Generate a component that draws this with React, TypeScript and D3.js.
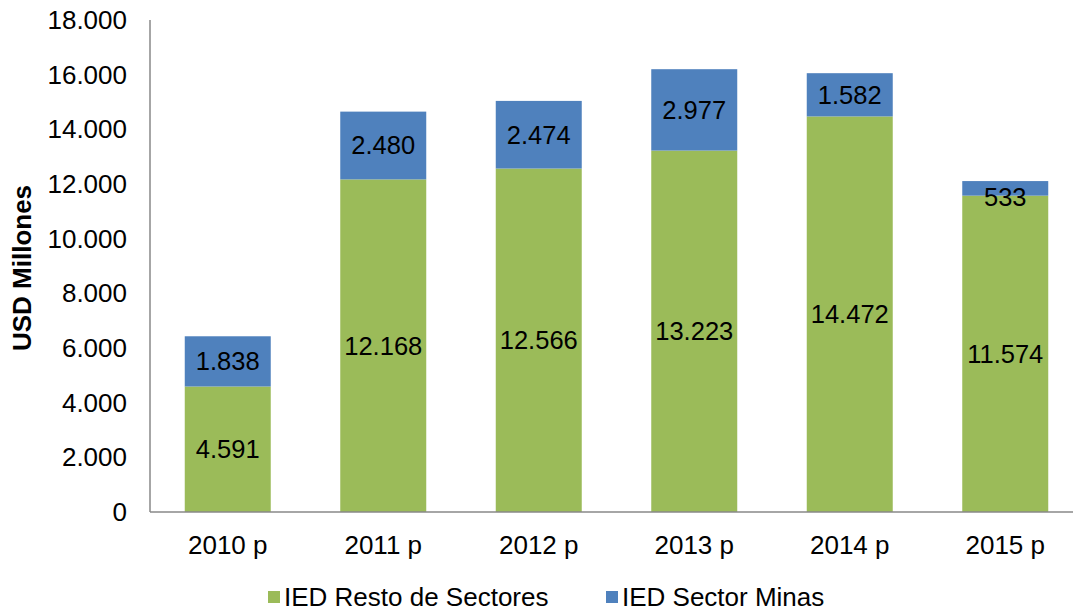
import React, { useEffect, useRef } from 'react';
import * as d3 from 'd3';

const categories = ['2010 p', '2011 p', '2012 p', '2013 p', '2014 p', '2015 p'];
const restoSectores = [4591, 12168, 12566, 13223, 14472, 11574];
const sectorMinas = [1838, 2480, 2474, 2977, 1582, 533];
const yTicks = [0, 2000, 4000, 6000, 8000, 10000, 12000, 14000, 16000, 18000];
const seriesNames = ['IED Resto de Sectores', 'IED Sector Minas'];

const App: React.FC = () => {
  const svgRef = useRef<SVGSVGElement>(null);

  useEffect(() => {
    document.body.style.margin = '0';
    if (!svgRef.current) return;
    const svg = d3.select(svgRef.current);
    svg.selectAll('*').remove();

    const width = 1073;
    const height = 611;
    const left = 150;
    const right = 1083;
    const top = 20;
    const bottom = 512;

    const green = '#9BBB59';
    const blue = '#4F81BD';
    const font = '"Liberation Sans", Arial, sans-serif';

    const fmt = d3.formatLocale({ decimal: ',', thousands: '.', grouping: [3], currency: ['', ''] }).format(',d');

    const x = d3.scaleBand().domain(categories).range([left, right]).paddingInner(0.447).paddingOuter(0.2235);
    const y = d3.scaleLinear().domain([0, 18000]).range([bottom, top]);

    svg.attr('width', width).attr('height', height);

    const rows = categories.map((c, i) => ({ c, resto: restoSectores[i], minas: sectorMinas[i] }));
    const stack = d3.stack<any>().keys(['resto', 'minas'])(rows);
    const colors = [green, blue];

    stack.forEach((layer, li) => {
      svg.append('g')
        .selectAll('rect')
        .data(layer)
        .enter()
        .append('rect')
        .attr('x', d => x(d.data.c)!)
        .attr('width', x.bandwidth())
        .attr('y', d => y(d[1]))
        .attr('height', d => y(d[0]) - y(d[1]))
        .attr('fill', colors[li]);

      svg.append('g')
        .selectAll('text')
        .data(layer)
        .enter()
        .append('text')
        .attr('x', d => x(d.data.c)! + x.bandwidth() / 2)
        .attr('y', d => Math.max((y(d[0]) + y(d[1])) / 2, y(d[1]) + 16))
        .attr('dy', '0.35em')
        .attr('text-anchor', 'middle')
        .style('font-family', font)
        .style('font-size', '25.5px')
        .style('fill', '#000')
        .text(d => fmt(d[1] - d[0]));
    });

    // axes
    svg.append('line')
      .attr('x1', left).attr('x2', left)
      .attr('y1', y(18000)).attr('y2', bottom)
      .attr('stroke', '#888').attr('stroke-width', 1.5);
    svg.append('line')
      .attr('x1', left).attr('x2', width)
      .attr('y1', bottom).attr('y2', bottom)
      .attr('stroke', '#888').attr('stroke-width', 1.5);

    svg.append('g')
      .selectAll('text')
      .data(yTicks)
      .enter()
      .append('text')
      .attr('x', left - 23)
      .attr('y', d => y(d))
      .attr('dy', '0.35em')
      .attr('text-anchor', 'end')
      .style('font-family', font)
      .style('font-size', '26px')
      .text(d => fmt(d));

    svg.append('g')
      .selectAll('text')
      .data(categories)
      .enter()
      .append('text')
      .attr('x', d => x(d)! + x.bandwidth() / 2)
      .attr('y', bottom + 33)
      .attr('dy', '0.35em')
      .attr('text-anchor', 'middle')
      .style('font-family', font)
      .style('font-size', '26px')
      .text(d => d);

    svg.append('text')
      .attr('transform', `translate(22, ${(top + bottom) / 2 + 2}) rotate(-90)`)
      .attr('dy', '0.35em')
      .attr('text-anchor', 'middle')
      .style('font-family', font)
      .style('font-size', '26px')
      .style('font-weight', 'bold')
      .text('USD Millones');

    // legend
    const legendX = [268, 606];
    const legend = svg.append('g');
    seriesNames.forEach((name, i) => {
      legend.append('rect')
        .attr('x', legendX[i]).attr('y', 591)
        .attr('width', 12).attr('height', 12)
        .attr('fill', colors[i]);
      legend.append('text')
        .attr('x', legendX[i] + 16).attr('y', 597)
        .attr('dy', '0.35em')
        .style('font-family', font)
        .style('font-size', '26px')
        .text(name);
    });
  }, []);

  return <svg ref={svgRef} style={{ display: 'block' }} />;
};

export default App;
